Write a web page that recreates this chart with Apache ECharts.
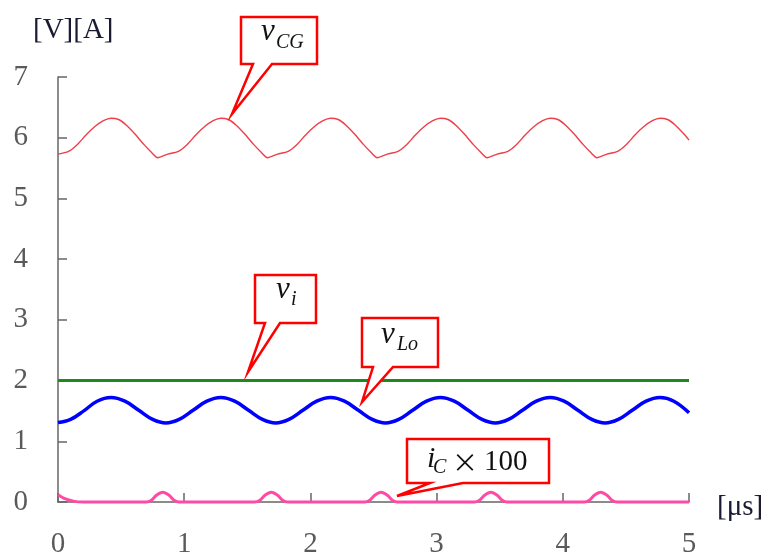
<!DOCTYPE html>
<html>
<head>
<meta charset="utf-8">
<script src="https://cdn.jsdelivr.net/npm/echarts@6/dist/echarts.min.js"></script>
<style>html,body{margin:0;padding:0;background:#fff;}#c{width:768px;height:559px;}</style>
</head>
<body>
<div id="c"></div>
<script>
// x in microseconds, y in V / A
var xTicks = [0, 1, 2, 3, 4, 5];
var yTicks = [0, 1, 2, 3, 4, 5, 6, 7];

var vCG = [[0,5.73],[0.08,5.77],[0.15,5.88],[0.22,6.04],[0.29,6.18],[0.36,6.28],[0.42,6.32],[0.48,6.30],[0.54,6.21],[0.61,6.06],[0.68,5.89],[0.74,5.76],[0.79,5.67],
  [0.87,5.73],[0.95,5.77],[1.02,5.88],[1.09,6.04],[1.16,6.18],[1.23,6.28],[1.29,6.32],[1.35,6.30],[1.41,6.21],[1.48,6.06],[1.55,5.89],[1.61,5.76],[1.66,5.67],
  [1.74,5.73],[1.82,5.77],[1.89,5.88],[1.96,6.04],[2.03,6.18],[2.10,6.28],[2.16,6.32],[2.22,6.30],[2.28,6.21],[2.35,6.06],[2.42,5.89],[2.48,5.76],[2.53,5.67],
  [2.61,5.73],[2.69,5.77],[2.76,5.88],[2.83,6.04],[2.90,6.18],[2.97,6.28],[3.03,6.32],[3.09,6.30],[3.15,6.21],[3.22,6.06],[3.29,5.89],[3.35,5.76],[3.40,5.67],
  [3.48,5.73],[3.56,5.77],[3.63,5.88],[3.70,6.04],[3.77,6.18],[3.84,6.28],[3.90,6.32],[3.96,6.30],[4.02,6.21],[4.09,6.06],[4.16,5.89],[4.22,5.76],[4.27,5.67],
  [4.35,5.73],[4.43,5.77],[4.50,5.88],[4.57,6.04],[4.64,6.18],[4.71,6.28],[4.77,6.32],[4.83,6.30],[4.89,6.21],[4.96,6.06],[5.0,5.96]];

var vi = [[0,2.0],[1,2.0],[2,2.0],[3,2.0],[4,2.0],[5,2.0]];

var vLo = [[0,1.31],[0.10,1.36],[0.21,1.51],[0.31,1.66],[0.42,1.72],[0.53,1.66],[0.64,1.51],[0.75,1.36],
  [0.855,1.30],[0.96,1.36],[1.07,1.51],[1.18,1.66],[1.29,1.72],[1.40,1.66],[1.51,1.51],[1.62,1.36],
  [1.725,1.30],[1.83,1.36],[1.94,1.51],[2.05,1.66],[2.16,1.72],[2.27,1.66],[2.38,1.51],[2.49,1.36],
  [2.595,1.30],[2.70,1.36],[2.81,1.51],[2.92,1.66],[3.03,1.72],[3.14,1.66],[3.25,1.51],[3.36,1.36],
  [3.465,1.30],[3.57,1.36],[3.68,1.51],[3.79,1.66],[3.90,1.72],[4.01,1.66],[4.12,1.51],[4.23,1.36],
  [4.335,1.30],[4.44,1.36],[4.55,1.51],[4.66,1.66],[4.77,1.72],[4.88,1.66],[5.0,1.47]];

var iC100 = [[0,0.12],[0.06,0.05],[0.13,0.01],[0.2,0.0],[0.5,0.0],[0.7,0.0],
  [0.74,0.03],[0.78,0.11],[0.83,0.16],[0.88,0.11],[0.92,0.03],[0.96,0.0],
  [1.3,0.0],[1.56,0.0],[1.60,0.03],[1.64,0.11],[1.69,0.16],[1.74,0.11],[1.78,0.03],[1.82,0.0],
  [2.2,0.0],[2.43,0.0],[2.47,0.03],[2.51,0.11],[2.56,0.16],[2.61,0.11],[2.65,0.03],[2.69,0.0],
  [3.0,0.0],[3.30,0.0],[3.34,0.03],[3.38,0.11],[3.43,0.16],[3.48,0.11],[3.52,0.03],[3.56,0.0],
  [3.9,0.0],[4.17,0.0],[4.21,0.03],[4.25,0.11],[4.30,0.16],[4.35,0.11],[4.39,0.03],[4.43,0.0],
  [4.7,0.0],[5.0,0.0]];

var serif = 'Liberation Serif';
var chart = echarts.init(document.getElementById('c'), null, {renderer: 'canvas'});

function callout(points, texts) {
  var els = [{
    type: 'polygon', z: 100,
    shape: {points: points},
    style: {fill: '#fff', stroke: '#ff0000', lineWidth: 2.5, lineJoin: 'miter'}
  }];
  texts.forEach(function (t) {
    els.push({
      type: 'text', z: 101, x: t[1], y: t[2],
      style: {text: t[0], fill: '#111', fontSize: t[3], fontFamily: t[5] || serif,
        fontStyle: t[4] ? 'italic' : 'normal', align: 'left', verticalAlign: 'middle'}
    });
  });
  return els;
}

var graphics = [].concat(
  callout([[241,17],[317,17],[317,64],[272,64],[232,114],[253,64],[241,64]],
    [['v',261,32,31,true],['CG',276,43,20,true]]),
  callout([[255,275],[316,275],[316,323],[280,323],[248,372],[265,323],[255,323]],
    [['v',276,290,31,true],['i',291,300,20,true]]),
  callout([[362,318],[438,318],[438,367],[393,367],[362,402],[373,367],[362,367]],
    [['v',381,335,31,true],['Lo',397,345,20,true]]),
  callout([[407,439],[549,439],[549,483],[463,483],[397,496],[430,483],[407,483]],
    [['i',427,459,30,true],['C',433,468,20,true],['\u00d7',452,462,26,false,'Noto Sans CJK JP'],['100',484,462,29,false]]),
  [{type: 'text', x: 33, y: 30, style: {text: '[V][A]', fill: '#1a1a33', fontSize: 29, fontFamily: serif, verticalAlign: 'middle'}},
   {type: 'text', x: 717, y: 507, style: {text: '[\u03bcs]', fill: '#1a1a33', fontSize: 29, fontFamily: serif, verticalAlign: 'middle'}}]
);

var axisCommon = {
  axisLine: {show: true, lineStyle: {color: '#666', width: 1.5}},
  axisTick: {show: true, inside: true, length: 9, lineStyle: {color: '#666', width: 1.5}},
  splitLine: {show: false},
  axisLabel: {color: '#5a5a5a', fontSize: 29, fontFamily: serif}
};

chart.setOption({
  animation: false,
  backgroundColor: '#fff',
  grid: {left: 58, right: 79, top: 77, bottom: 52, containLabel: false},
  xAxis: Object.assign({type: 'value', min: xTicks[0], max: xTicks[xTicks.length - 1], interval: 1}, axisCommon,
    {axisLabel: Object.assign({}, axisCommon.axisLabel, {margin: 28})}),
  yAxis: Object.assign({type: 'value', min: yTicks[0], max: yTicks[yTicks.length - 1], interval: 1}, axisCommon,
    {axisLabel: Object.assign({}, axisCommon.axisLabel, {margin: 30})}),
  series: [
    {name: 'vCG', type: 'line', data: vCG, smooth: 0.2, showSymbol: false, lineStyle: {color: '#ee3f4a', width: 1.4}},
    {name: 'vi', type: 'line', data: vi, showSymbol: false, lineStyle: {color: '#1e8a1e', width: 3}},
    {name: 'vLo', type: 'line', data: vLo, smooth: 0.4, showSymbol: false, lineStyle: {color: '#0000ff', width: 3.5}},
    {name: 'iC100', type: 'line', data: iC100, smooth: 0.3, showSymbol: false, clip: false, lineStyle: {color: '#ff4aa5', width: 3}}
  ],
  graphic: graphics
});
</script>
</body>
</html>
